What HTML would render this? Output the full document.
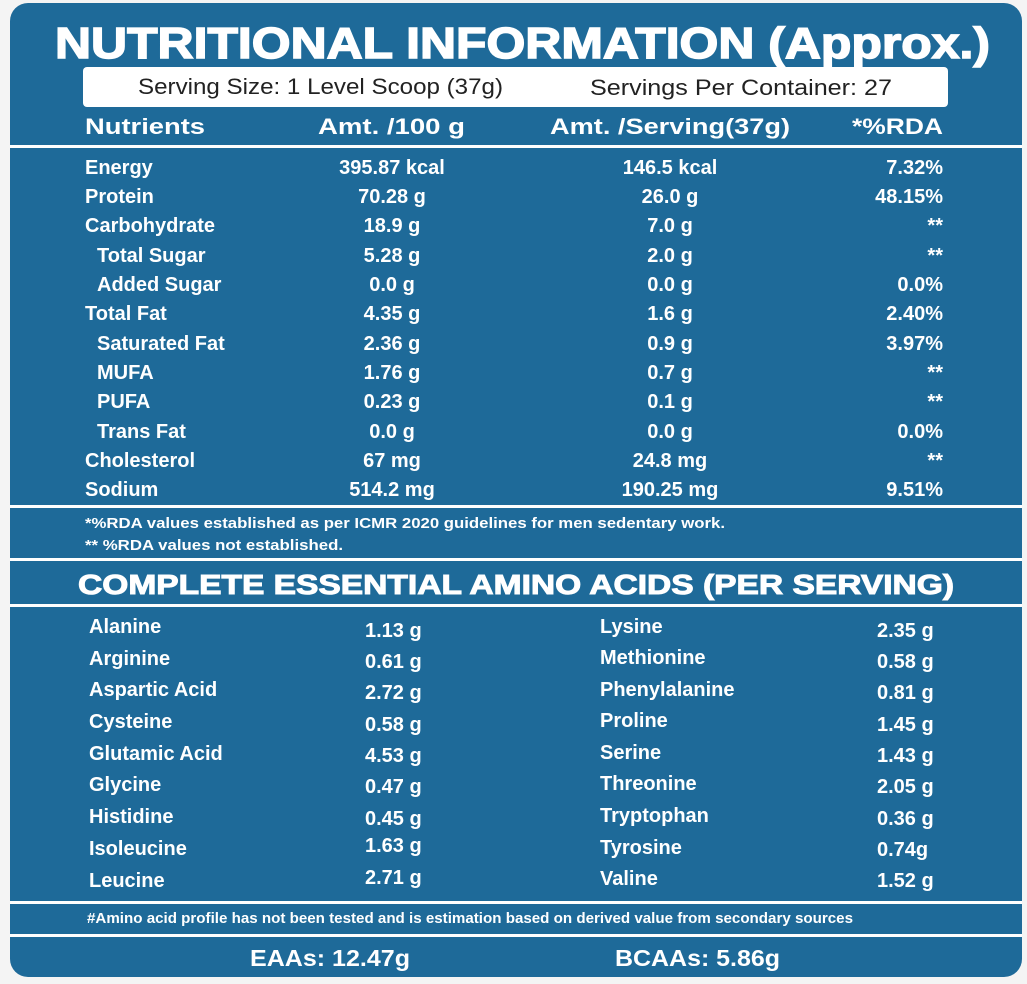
<!DOCTYPE html><html><head><meta charset="utf-8"><style>body{margin:0;background:#fff}svg{display:block}text{font-family:"Liberation Sans",sans-serif;fill:#fff;font-weight:bold}</style></head><body>
<svg width="1027" height="984" viewBox="0 0 1027 984">
<rect x="0" y="0" width="1027" height="984" fill="#f4f4f4"/>
<rect x="10" y="3" width="1012" height="974" rx="18" fill="#1e6a99"/>
<g fill="#fff">
<rect x="10" y="145" width="1012" height="3"/>
<rect x="10" y="505" width="1012" height="3"/>
<rect x="10" y="558" width="1012" height="3"/>
<rect x="10" y="604" width="1012" height="3"/>
<rect x="10" y="901" width="1012" height="3"/>
<rect x="10" y="934" width="1012" height="3"/>
<rect x="83" y="67" width="865" height="40" rx="4"/>
</g>
<text x="55" y="58" font-size="44" textLength="935" lengthAdjust="spacingAndGlyphs" style="font-weight:900;stroke:#fff;stroke-width:1.5">NUTRITIONAL  INFORMATION (Approx.)</text>
<text x="138" y="94" font-size="22" style="font-weight:normal;fill:#222" textLength="365" lengthAdjust="spacingAndGlyphs">Serving Size: 1 Level Scoop (37g)</text>
<text x="590" y="95" font-size="22" style="font-weight:normal;fill:#222" textLength="302" lengthAdjust="spacingAndGlyphs">Servings Per Container: 27</text>
<g font-size="22">
<text x="85" y="134" textLength="120" lengthAdjust="spacingAndGlyphs">Nutrients</text>
<text x="318" y="134" textLength="147" lengthAdjust="spacingAndGlyphs">Amt. /100 g</text>
<text x="550" y="134" textLength="240" lengthAdjust="spacingAndGlyphs">Amt. /Serving(37g)</text>
<text x="852" y="134" textLength="91" lengthAdjust="spacingAndGlyphs">*%RDA</text>
</g>
<g font-size="20">
<text x="85" y="174">Energy</text><text x="392" y="174" text-anchor="middle">395.87 kcal</text><text x="670" y="174" text-anchor="middle">146.5 kcal</text><text x="943" y="174" text-anchor="end">7.32%</text>
<text x="85" y="203">Protein</text><text x="392" y="203" text-anchor="middle">70.28 g</text><text x="670" y="203" text-anchor="middle">26.0 g</text><text x="943" y="203" text-anchor="end">48.15%</text>
<text x="85" y="232">Carbohydrate</text><text x="392" y="232" text-anchor="middle">18.9 g</text><text x="670" y="232" text-anchor="middle">7.0 g</text><text x="943" y="232" text-anchor="end">**</text>
<text x="97" y="262">Total Sugar</text><text x="392" y="262" text-anchor="middle">5.28 g</text><text x="670" y="262" text-anchor="middle">2.0 g</text><text x="943" y="262" text-anchor="end">**</text>
<text x="97" y="291">Added Sugar</text><text x="392" y="291" text-anchor="middle">0.0 g</text><text x="670" y="291" text-anchor="middle">0.0 g</text><text x="943" y="291" text-anchor="end">0.0%</text>
<text x="85" y="320">Total Fat</text><text x="392" y="320" text-anchor="middle">4.35 g</text><text x="670" y="320" text-anchor="middle">1.6 g</text><text x="943" y="320" text-anchor="end">2.40%</text>
<text x="97" y="350">Saturated Fat</text><text x="392" y="350" text-anchor="middle">2.36 g</text><text x="670" y="350" text-anchor="middle">0.9 g</text><text x="943" y="350" text-anchor="end">3.97%</text>
<text x="97" y="379">MUFA</text><text x="392" y="379" text-anchor="middle">1.76 g</text><text x="670" y="379" text-anchor="middle">0.7 g</text><text x="943" y="379" text-anchor="end">**</text>
<text x="97" y="408">PUFA</text><text x="392" y="408" text-anchor="middle">0.23 g</text><text x="670" y="408" text-anchor="middle">0.1 g</text><text x="943" y="408" text-anchor="end">**</text>
<text x="97" y="438">Trans Fat</text><text x="392" y="438" text-anchor="middle">0.0 g</text><text x="670" y="438" text-anchor="middle">0.0 g</text><text x="943" y="438" text-anchor="end">0.0%</text>
<text x="85" y="467">Cholesterol</text><text x="392" y="467" text-anchor="middle">67 mg</text><text x="670" y="467" text-anchor="middle">24.8 mg</text><text x="943" y="467" text-anchor="end">**</text>
<text x="85" y="496">Sodium</text><text x="392" y="496" text-anchor="middle">514.2 mg</text><text x="670" y="496" text-anchor="middle">190.25 mg</text><text x="943" y="496" text-anchor="end">9.51%</text>
</g>
<g font-size="15">
<text x="85" y="528" textLength="640" lengthAdjust="spacingAndGlyphs">*%RDA values established as per ICMR 2020 guidelines for men sedentary work.</text>
<text x="85" y="550" textLength="258" lengthAdjust="spacingAndGlyphs">** %RDA values not established.</text>
</g>
<text x="78" y="594" font-size="28" textLength="876" lengthAdjust="spacingAndGlyphs" style="font-weight:900;stroke:#fff;stroke-width:1">COMPLETE ESSENTIAL AMINO ACIDS (PER SERVING)</text>
<g font-size="20">
<text x="89" y="633">Alanine</text><text x="365" y="637">1.13 g</text><text x="600" y="633">Lysine</text><text x="877" y="637">2.35 g</text>
<text x="89" y="665">Arginine</text><text x="365" y="668">0.61 g</text><text x="600" y="664">Methionine</text><text x="877" y="668">0.58 g</text>
<text x="89" y="696">Aspartic Acid</text><text x="365" y="699">2.72 g</text><text x="600" y="696">Phenylalanine</text><text x="877" y="699">0.81 g</text>
<text x="89" y="728">Cysteine</text><text x="365" y="731">0.58 g</text><text x="600" y="727">Proline</text><text x="877" y="731">1.45 g</text>
<text x="89" y="760">Glutamic Acid</text><text x="365" y="762">4.53 g</text><text x="600" y="759">Serine</text><text x="877" y="762">1.43 g</text>
<text x="89" y="791">Glycine</text><text x="365" y="793">0.47 g</text><text x="600" y="790">Threonine</text><text x="877" y="793">2.05 g</text>
<text x="89" y="823">Histidine</text><text x="365" y="825">0.45 g</text><text x="600" y="822">Tryptophan</text><text x="877" y="825">0.36 g</text>
<text x="89" y="855">Isoleucine</text><text x="365" y="852">1.63 g</text><text x="600" y="854">Tyrosine</text><text x="877" y="856">0.74g</text>
<text x="89" y="887">Leucine</text><text x="365" y="884">2.71 g</text><text x="600" y="885">Valine</text><text x="877" y="887">1.52 g</text>
</g>
<text x="87" y="923" font-size="15" textLength="766" lengthAdjust="spacingAndGlyphs">#Amino acid profile has not been tested and is estimation based on derived value from secondary sources</text>
<text x="250" y="966" font-size="23" textLength="160" lengthAdjust="spacingAndGlyphs">EAAs: 12.47g</text>
<text x="615" y="966" font-size="23" textLength="165" lengthAdjust="spacingAndGlyphs">BCAAs: 5.86g</text>
</svg>
</body></html>
